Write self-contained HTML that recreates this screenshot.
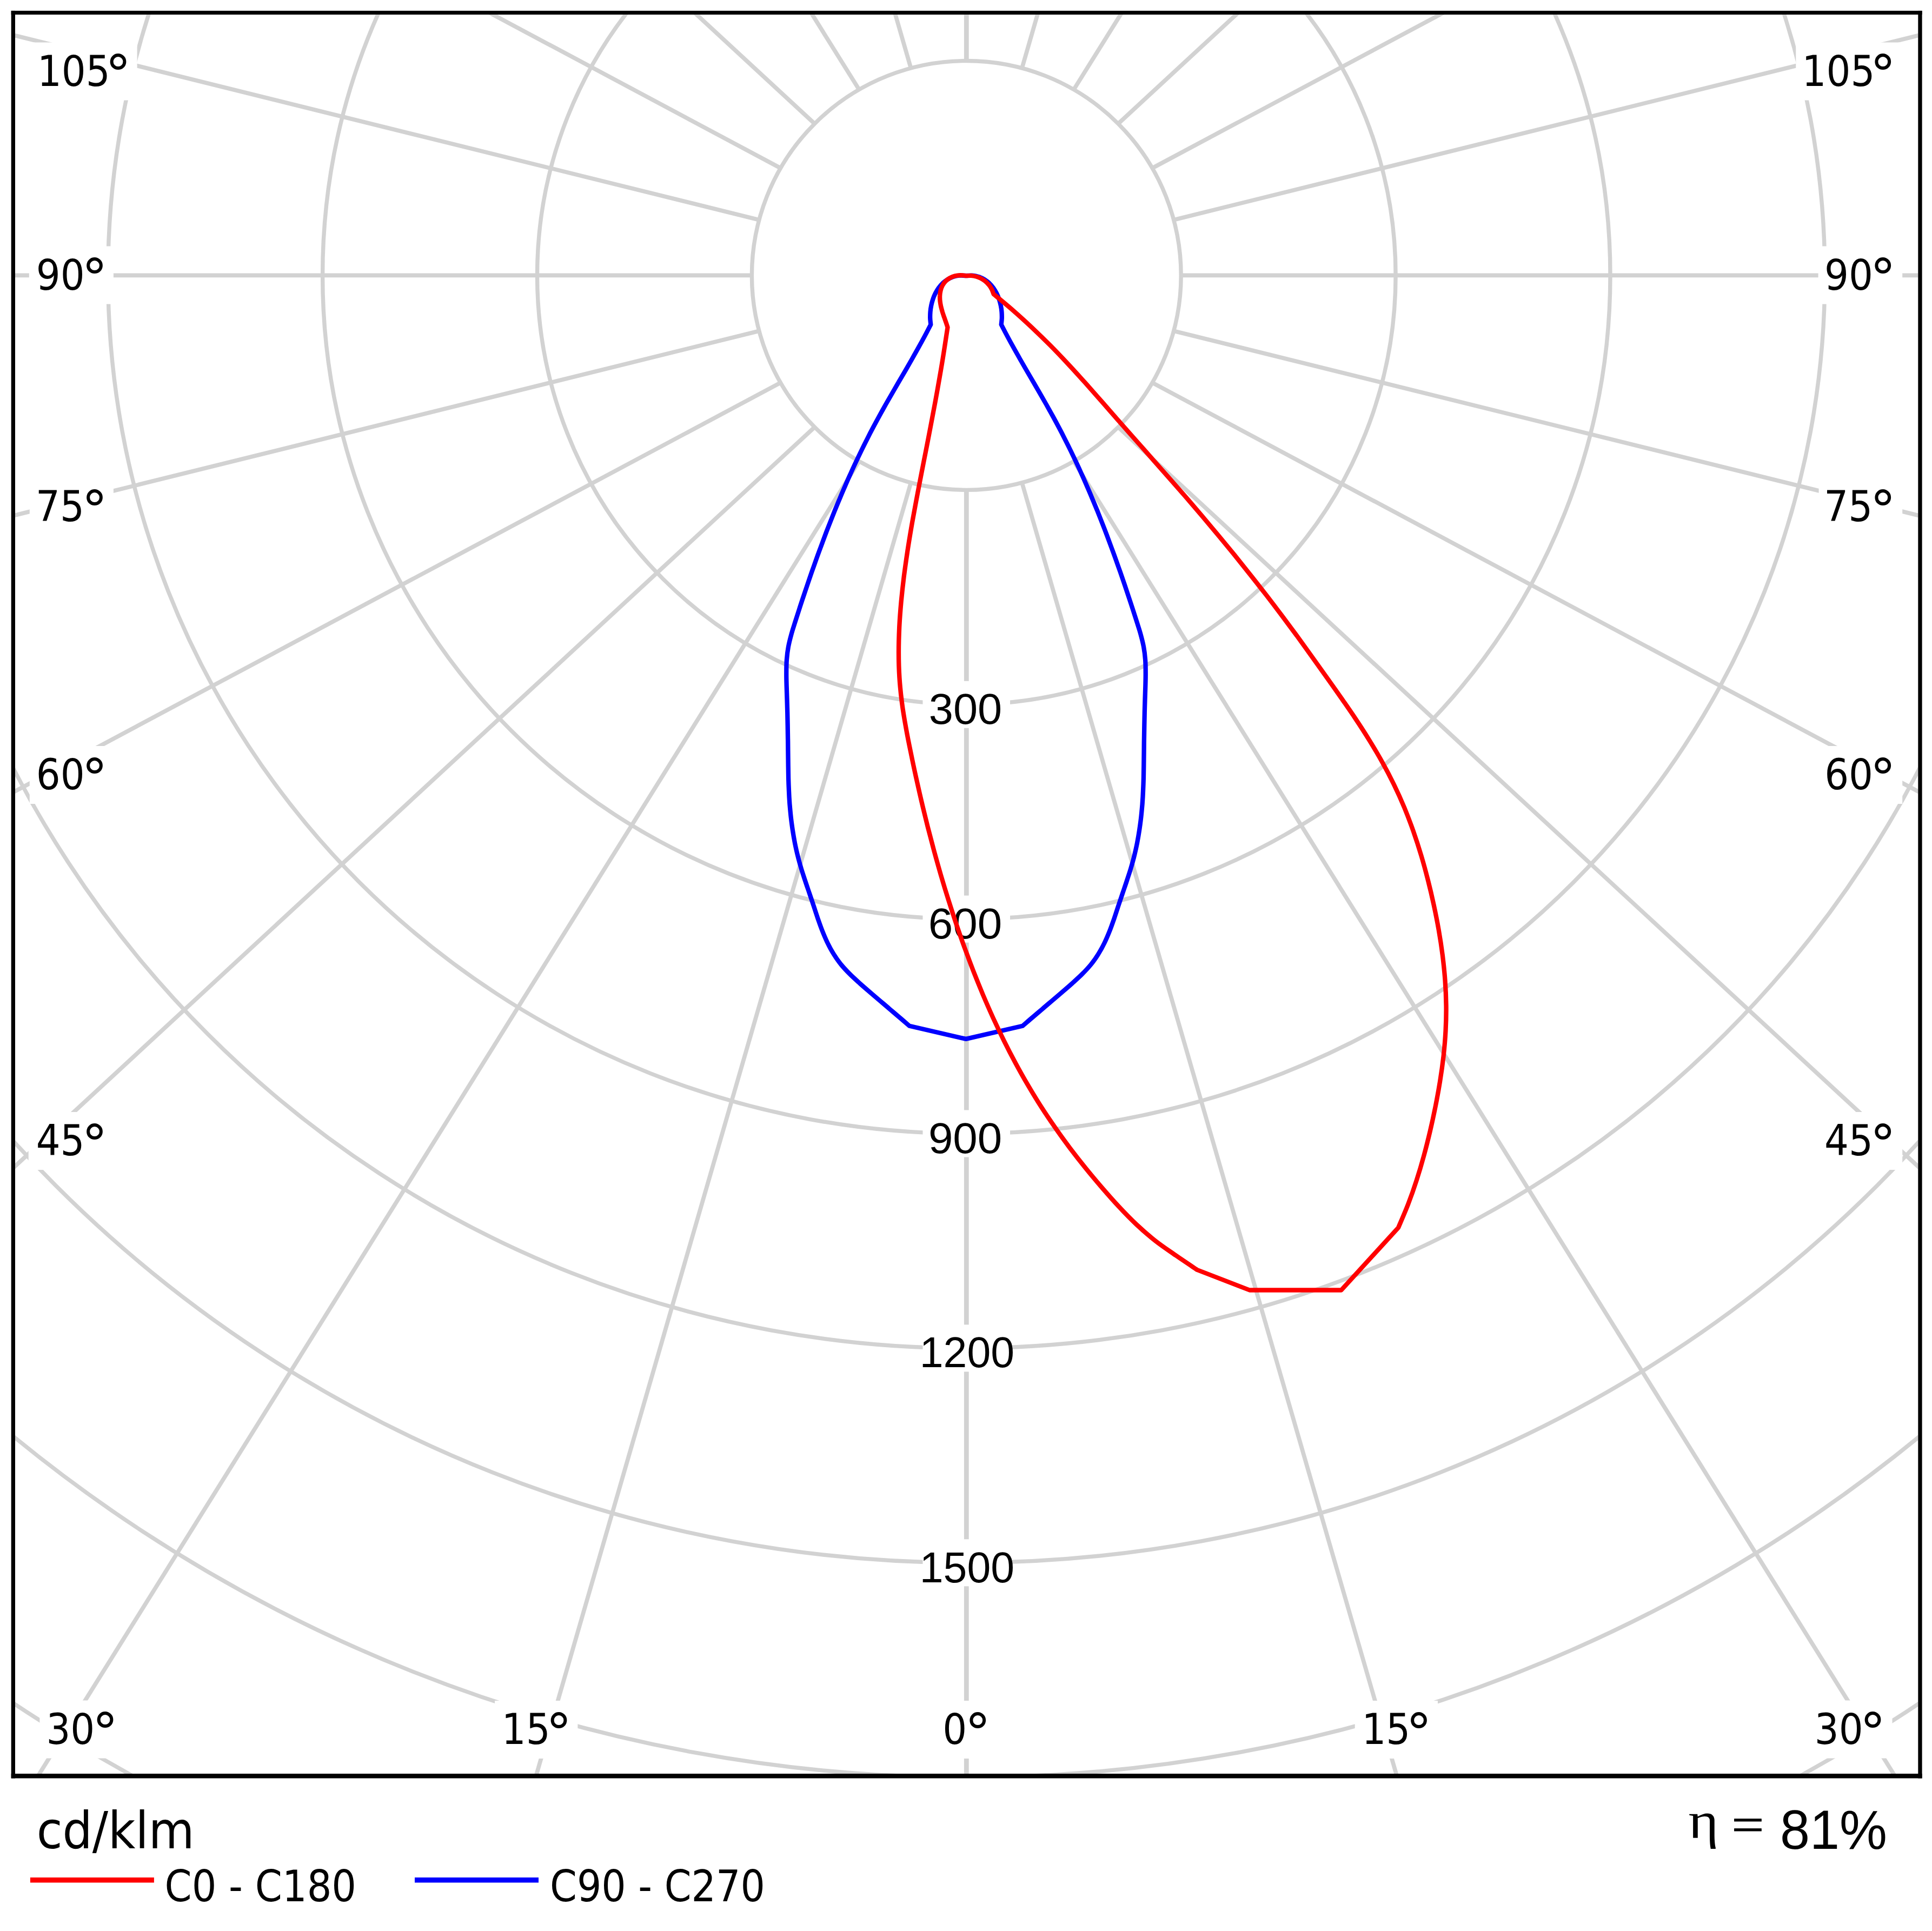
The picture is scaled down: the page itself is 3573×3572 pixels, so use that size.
<!DOCTYPE html>
<html lang="en"><head><meta charset="utf-8"><title>Polar luminous intensity diagram</title>
<style>html,body{margin:0;padding:0;background:#fff}body{width:3573px;height:3572px;overflow:hidden}svg{display:block}</style></head><body>
<svg width="3573" height="3572" viewBox="0 0 3573 3572">
<rect x="0" y="0" width="3573" height="3572" fill="#fff"/>
<defs><clipPath id="plot"><rect x="28.0" y="27.2" width="3519.3" height="3255.0"/></clipPath></defs>
<g clip-path="url(#plot)">
<g fill="none" stroke="#d2d2d2" stroke-width="7.7">
<circle cx="1787.3" cy="509.45" r="396.9" stroke-width="7.4"/>
<circle cx="1787.3" cy="509.45" r="793.8" stroke-width="7.4"/>
<circle cx="1787.3" cy="509.45" r="1190.7" stroke-width="7.4"/>
<circle cx="1787.3" cy="509.45" r="1587.6" stroke-width="7.4"/>
<circle cx="1787.3" cy="509.45" r="1984.5" stroke-width="7.4"/>
<circle cx="1787.3" cy="509.45" r="2381.4" stroke-width="7.4"/>
<circle cx="1787.3" cy="509.45" r="2778.3" stroke-width="7.4"/>
<circle cx="1787.3" cy="509.45" r="3175.2" stroke-width="7.4"/>
<circle cx="1787.3" cy="509.45" r="3572.1" stroke-width="7.4"/>
<line x1="1787.3" y1="906.3" x2="1787.3" y2="5106.4" stroke-width="8.8"/>
<line x1="1890.0" y1="892.8" x2="3059.0" y2="4926.9" stroke-width="7.7"/>
<line x1="1985.8" y1="853.2" x2="4210.2" y2="4415.7" stroke-width="7.7"/>
<line x1="2068.0" y1="790.1" x2="5151.7" y2="3641.5" stroke-width="7.7"/>
<line x1="2131.0" y1="707.9" x2="5836.1" y2="2685.8" stroke-width="7.7"/>
<line x1="2170.7" y1="612.2" x2="6247.4" y2="1622.2" stroke-width="7.7"/>
<line x1="2184.2" y1="509.4" x2="6384.2" y2="509.5" stroke-width="7.7"/>
<line x1="2170.7" y1="406.7" x2="6247.4" y2="-603.3" stroke-width="7.7"/>
<line x1="2131.0" y1="311.0" x2="5836.1" y2="-1666.9" stroke-width="7.7"/>
<line x1="2068.0" y1="228.8" x2="5151.7" y2="-2622.6" stroke-width="7.7"/>
<line x1="1985.8" y1="165.7" x2="4210.2" y2="-3396.8" stroke-width="7.7"/>
<line x1="1890.0" y1="126.1" x2="3059.0" y2="-3908.0" stroke-width="7.7"/>
<line x1="1787.3" y1="112.6" x2="1787.3" y2="-4087.4" stroke-width="8.8"/>
<line x1="1684.6" y1="126.1" x2="515.6" y2="-3908.0" stroke-width="7.7"/>
<line x1="1588.8" y1="165.7" x2="-635.6" y2="-3396.8" stroke-width="7.7"/>
<line x1="1506.6" y1="228.8" x2="-1577.1" y2="-2622.6" stroke-width="7.7"/>
<line x1="1443.6" y1="311.0" x2="-2261.5" y2="-1666.9" stroke-width="7.7"/>
<line x1="1403.9" y1="406.7" x2="-2672.8" y2="-603.3" stroke-width="7.7"/>
<line x1="1390.4" y1="509.4" x2="-2809.6" y2="509.4" stroke-width="7.7"/>
<line x1="1403.9" y1="612.2" x2="-2672.8" y2="1622.2" stroke-width="7.7"/>
<line x1="1443.6" y1="707.9" x2="-2261.5" y2="2685.8" stroke-width="7.7"/>
<line x1="1506.6" y1="790.1" x2="-1577.1" y2="3641.5" stroke-width="7.7"/>
<line x1="1588.8" y1="853.2" x2="-635.6" y2="4415.7" stroke-width="7.7"/>
<line x1="1684.6" y1="892.8" x2="515.6" y2="4926.9" stroke-width="7.7"/>
</g>
<rect x="56.2" y="78.5" width="197.4" height="107.0" fill="#fff"/>
<rect x="3321.3" y="78.5" width="196.9" height="107.0" fill="#fff"/>
<rect x="53.8" y="455.5" width="156.1" height="107.0" fill="#fff"/>
<rect x="3362.6" y="455.5" width="155.6" height="107.0" fill="#fff"/>
<rect x="54.8" y="884.0" width="155.1" height="107.0" fill="#fff"/>
<rect x="3363.6" y="884.0" width="154.6" height="107.0" fill="#fff"/>
<rect x="54.8" y="1380.0" width="155.1" height="107.0" fill="#fff"/>
<rect x="3363.6" y="1380.0" width="154.6" height="107.0" fill="#fff"/>
<rect x="52.7" y="2057.0" width="157.2" height="107.0" fill="#fff"/>
<rect x="3361.5" y="2057.0" width="156.7" height="107.0" fill="#fff"/>
<rect x="73.4" y="3145.5" width="156.1" height="107.0" fill="#fff"/>
<rect x="3345.3" y="3145.5" width="154.2" height="107.0" fill="#fff"/>
<rect x="915.1" y="3146.0" width="153.3" height="107.0" fill="#fff"/>
<rect x="1731.0" y="3146.0" width="112.2" height="107.0" fill="#fff"/>
<rect x="2505.7" y="3146.0" width="153.3" height="107.0" fill="#fff"/>
<rect x="1706.5" y="1259.8" width="161.5" height="87.0" fill="#fff"/>
<rect x="1706.5" y="1656.6" width="161.5" height="87.0" fill="#fff"/>
<rect x="1706.5" y="2053.5" width="161.5" height="87.0" fill="#fff"/>
<rect x="1706.5" y="2450.4" width="165.5" height="87.0" fill="#fff"/>
<rect x="1706.5" y="2847.3" width="165.5" height="87.0" fill="#fff"/>
<text x="68.95" y="158.60" font-family="'DejaVu Sans Condensed','DejaVu Sans','Liberation Sans',sans-serif" font-stretch="condensed" font-size="78.5" fill="#000">105<tspan x="194.60" y="171.10" font-family="'DejaVu Sans','Liberation Sans',sans-serif" font-stretch="normal" font-size="96">°</tspan></text>
<text x="3332.55" y="158.60" font-family="'DejaVu Sans Condensed','DejaVu Sans','Liberation Sans',sans-serif" font-stretch="condensed" font-size="78.5" fill="#000">105<tspan x="3458.20" y="171.10" font-family="'DejaVu Sans','Liberation Sans',sans-serif" font-stretch="normal" font-size="96">°</tspan></text>
<text x="66.80" y="535.60" font-family="'DejaVu Sans Condensed','DejaVu Sans','Liberation Sans',sans-serif" font-stretch="condensed" font-size="78.5" fill="#000">90<tspan x="150.90" y="548.10" font-family="'DejaVu Sans','Liberation Sans',sans-serif" font-stretch="normal" font-size="96">°</tspan></text>
<text x="3374.10" y="535.60" font-family="'DejaVu Sans Condensed','DejaVu Sans','Liberation Sans',sans-serif" font-stretch="condensed" font-size="78.5" fill="#000">90<tspan x="3458.20" y="548.10" font-family="'DejaVu Sans','Liberation Sans',sans-serif" font-stretch="normal" font-size="96">°</tspan></text>
<text x="66.02" y="964.10" font-family="'DejaVu Sans Condensed','DejaVu Sans','Liberation Sans',sans-serif" font-stretch="condensed" font-size="78.5" fill="#000">75<tspan x="150.90" y="976.60" font-family="'DejaVu Sans','Liberation Sans',sans-serif" font-stretch="normal" font-size="96">°</tspan></text>
<text x="3373.32" y="964.10" font-family="'DejaVu Sans Condensed','DejaVu Sans','Liberation Sans',sans-serif" font-stretch="condensed" font-size="78.5" fill="#000">75<tspan x="3458.20" y="976.60" font-family="'DejaVu Sans','Liberation Sans',sans-serif" font-stretch="normal" font-size="96">°</tspan></text>
<text x="66.84" y="1460.10" font-family="'DejaVu Sans Condensed','DejaVu Sans','Liberation Sans',sans-serif" font-stretch="condensed" font-size="78.5" fill="#000">60<tspan x="150.90" y="1472.60" font-family="'DejaVu Sans','Liberation Sans',sans-serif" font-stretch="normal" font-size="96">°</tspan></text>
<text x="3374.14" y="1460.10" font-family="'DejaVu Sans Condensed','DejaVu Sans','Liberation Sans',sans-serif" font-stretch="condensed" font-size="78.5" fill="#000">60<tspan x="3458.20" y="1472.60" font-family="'DejaVu Sans','Liberation Sans',sans-serif" font-stretch="normal" font-size="96">°</tspan></text>
<text x="66.70" y="2137.10" font-family="'DejaVu Sans Condensed','DejaVu Sans','Liberation Sans',sans-serif" font-stretch="condensed" font-size="78.5" fill="#000">45<tspan x="150.90" y="2149.60" font-family="'DejaVu Sans','Liberation Sans',sans-serif" font-stretch="normal" font-size="96">°</tspan></text>
<text x="3374.00" y="2137.10" font-family="'DejaVu Sans Condensed','DejaVu Sans','Liberation Sans',sans-serif" font-stretch="condensed" font-size="78.5" fill="#000">45<tspan x="3458.20" y="2149.60" font-family="'DejaVu Sans','Liberation Sans',sans-serif" font-stretch="normal" font-size="96">°</tspan></text>
<text x="85.40" y="3225.60" font-family="'DejaVu Sans Condensed','DejaVu Sans','Liberation Sans',sans-serif" font-stretch="condensed" font-size="78.5" fill="#000">30<tspan x="170.50" y="3238.10" font-family="'DejaVu Sans','Liberation Sans',sans-serif" font-stretch="normal" font-size="96">°</tspan></text>
<text x="3355.80" y="3225.60" font-family="'DejaVu Sans Condensed','DejaVu Sans','Liberation Sans',sans-serif" font-stretch="condensed" font-size="78.5" fill="#000">30<tspan x="3439.50" y="3238.10" font-family="'DejaVu Sans','Liberation Sans',sans-serif" font-stretch="normal" font-size="96">°</tspan></text>
<text x="927.85" y="3226.10" font-family="'DejaVu Sans Condensed','DejaVu Sans','Liberation Sans',sans-serif" font-stretch="condensed" font-size="78.5" fill="#000">15<tspan x="1009.40" y="3238.60" font-family="'DejaVu Sans','Liberation Sans',sans-serif" font-stretch="normal" font-size="96">°</tspan></text>
<text x="1743.31" y="3226.10" font-family="'DejaVu Sans Condensed','DejaVu Sans','Liberation Sans',sans-serif" font-stretch="condensed" font-size="78.5" fill="#000">0<tspan x="1784.20" y="3238.60" font-family="'DejaVu Sans','Liberation Sans',sans-serif" font-stretch="normal" font-size="96">°</tspan></text>
<text x="2518.45" y="3226.10" font-family="'DejaVu Sans Condensed','DejaVu Sans','Liberation Sans',sans-serif" font-stretch="condensed" font-size="78.5" fill="#000">15<tspan x="2600.00" y="3238.60" font-family="'DejaVu Sans','Liberation Sans',sans-serif" font-stretch="normal" font-size="96">°</tspan></text>
<text transform="translate(1717.77,1339.45) scale(1.0086,1)" font-family="'Liberation Sans',sans-serif" font-size="80.5" fill="#000">300</text>
<text transform="translate(1716.73,1736.35) scale(1.0166,1)" font-family="'Liberation Sans',sans-serif" font-size="80.5" fill="#000">600</text>
<text transform="translate(1716.93,2133.25) scale(1.0150,1)" font-family="'Liberation Sans',sans-serif" font-size="80.5" fill="#000">900</text>
<text transform="translate(1700.83,2529.15) scale(0.9782,1)" font-family="'Liberation Sans',sans-serif" font-size="80.5" fill="#000">1200</text>
<text transform="translate(1700.83,2927.05) scale(0.9782,1)" font-family="'Liberation Sans',sans-serif" font-size="80.5" fill="#000">1500</text>
<path d="M1786.5,1921.9L1681.9,1897.8C1678.8,1895.2 1669.7,1887.2 1663.5,1882.0C1657.4,1876.7 1651.2,1871.5 1645.1,1866.3C1639.0,1861.0 1632.8,1855.8 1626.7,1850.6C1620.5,1845.3 1614.4,1840.1 1608.3,1834.8C1602.1,1829.5 1595.9,1824.2 1589.9,1818.8C1583.9,1813.4 1577.8,1808.0 1572.1,1802.3C1566.4,1796.6 1560.8,1790.7 1555.7,1784.5C1550.7,1778.3 1546.0,1771.7 1541.8,1764.9C1537.5,1758.1 1533.7,1750.9 1530.2,1743.7C1526.7,1736.5 1523.6,1729.0 1520.6,1721.5C1517.6,1714.0 1515.0,1706.3 1512.3,1698.6C1509.7,1691.0 1507.2,1683.2 1504.7,1675.5C1502.1,1667.8 1499.5,1660.1 1496.9,1652.4C1494.3,1644.7 1491.6,1637.1 1489.1,1629.4C1486.6,1621.7 1484.0,1614.1 1481.7,1606.4C1479.4,1598.6 1477.2,1590.9 1475.3,1583.1C1473.3,1575.3 1471.6,1567.4 1470.0,1559.5C1468.5,1551.6 1467.1,1543.6 1465.9,1535.6C1464.7,1527.7 1463.6,1519.6 1462.7,1511.6C1461.8,1503.6 1461.1,1495.5 1460.4,1487.5C1459.8,1479.4 1459.3,1471.3 1459.0,1463.2C1458.6,1455.1 1458.3,1447.0 1458.1,1439.0C1457.9,1430.9 1457.8,1422.8 1457.7,1414.7C1457.6,1406.6 1457.5,1398.6 1457.4,1390.5C1457.3,1382.4 1457.3,1374.4 1457.1,1366.3C1457.0,1358.3 1456.9,1350.2 1456.7,1342.1C1456.6,1334.1 1456.4,1326.0 1456.2,1317.9C1456.0,1309.8 1455.7,1301.8 1455.5,1293.6C1455.2,1285.5 1454.9,1277.4 1454.7,1269.3C1454.5,1261.2 1454.2,1253.0 1454.3,1244.9C1454.3,1236.8 1454.3,1228.7 1454.9,1220.7C1455.5,1212.7 1456.4,1204.7 1457.9,1196.8C1459.3,1188.9 1461.4,1181.1 1463.5,1173.4C1465.6,1165.6 1468.2,1158.0 1470.6,1150.3C1473.0,1142.6 1475.5,1134.9 1478.0,1127.2C1480.5,1119.5 1483.0,1111.8 1485.6,1104.2C1488.2,1096.5 1490.7,1088.8 1493.3,1081.2C1495.9,1073.5 1498.6,1065.9 1501.2,1058.2C1503.9,1050.6 1506.6,1043.0 1509.3,1035.4C1512.0,1027.7 1514.8,1020.1 1517.6,1012.6C1520.4,1005.0 1523.2,997.4 1526.1,989.8C1528.9,982.3 1531.8,974.7 1534.8,967.2C1537.7,959.7 1540.7,952.2 1543.7,944.7C1546.8,937.2 1549.8,929.7 1553.0,922.3C1556.1,914.8 1559.2,907.4 1562.5,900.0C1565.7,892.6 1568.9,885.2 1572.3,877.8C1575.6,870.5 1578.9,863.1 1582.4,855.8C1585.8,848.5 1589.3,841.2 1592.8,834.0C1596.3,826.7 1599.9,819.5 1603.6,812.3C1607.2,805.1 1610.9,797.9 1614.7,790.8C1618.5,783.6 1622.3,776.5 1626.2,769.4C1630.1,762.4 1634.1,755.3 1638.0,748.3C1642.0,741.2 1646.1,734.2 1650.1,727.2C1654.1,720.2 1658.2,713.2 1662.3,706.2C1666.3,699.3 1670.4,692.3 1674.5,685.3C1678.5,678.3 1682.6,671.3 1686.6,664.2C1690.6,657.2 1694.6,650.2 1698.5,643.1C1702.4,636.1 1706.3,629.0 1710.1,621.9C1713.9,614.7 1719.4,604.0 1721.3,600.4C1721.1,598.5 1720.4,592.8 1720.2,589.0C1720.1,585.1 1720.2,581.1 1720.5,577.1C1720.8,573.1 1721.4,569.1 1722.2,565.2C1723.0,561.3 1724.0,557.3 1725.3,553.6C1726.5,549.8 1728.0,546.1 1729.8,542.6C1731.6,539.1 1733.6,535.7 1735.8,532.6C1738.1,529.5 1740.6,526.5 1743.3,523.9C1746.1,521.4 1749.1,519.0 1752.3,517.0C1755.5,515.0 1758.9,513.4 1762.5,512.1C1766.1,510.9 1770.0,510.0 1774.0,509.7C1778.0,509.3 1782.3,510.0 1786.5,510.0C1790.7,510.0 1795.0,509.3 1799.0,509.7C1803.0,510.0 1806.9,510.9 1810.5,512.1C1814.1,513.4 1817.5,515.0 1820.7,517.0C1823.9,519.0 1826.9,521.4 1829.7,523.9C1832.4,526.5 1834.9,529.5 1837.2,532.6C1839.4,535.7 1841.4,539.1 1843.2,542.6C1845.0,546.1 1846.5,549.8 1847.7,553.6C1849.0,557.3 1850.0,561.3 1850.8,565.2C1851.6,569.1 1852.2,573.1 1852.5,577.1C1852.8,581.1 1852.9,585.1 1852.8,589.0C1852.6,592.8 1851.9,598.5 1851.7,600.4C1853.6,604.0 1859.1,614.7 1862.9,621.9C1866.7,629.0 1870.6,636.1 1874.5,643.1C1878.4,650.2 1882.4,657.2 1886.4,664.2C1890.4,671.3 1894.5,678.3 1898.5,685.3C1902.6,692.3 1906.7,699.3 1910.7,706.2C1914.8,713.2 1918.9,720.2 1922.9,727.2C1926.9,734.2 1931.0,741.2 1935.0,748.3C1938.9,755.3 1942.9,762.4 1946.8,769.4C1950.7,776.5 1954.5,783.6 1958.3,790.8C1962.1,797.9 1965.8,805.1 1969.4,812.3C1973.1,819.5 1976.7,826.7 1980.2,834.0C1983.7,841.2 1987.2,848.5 1990.6,855.8C1994.1,863.1 1997.4,870.5 2000.7,877.8C2004.1,885.2 2007.3,892.6 2010.5,900.0C2013.8,907.4 2016.9,914.8 2020.0,922.3C2023.2,929.7 2026.2,937.2 2029.3,944.7C2032.3,952.2 2035.3,959.7 2038.2,967.2C2041.2,974.7 2044.1,982.3 2046.9,989.8C2049.8,997.4 2052.6,1005.0 2055.4,1012.6C2058.2,1020.1 2061.0,1027.7 2063.7,1035.4C2066.4,1043.0 2069.1,1050.6 2071.8,1058.2C2074.4,1065.9 2077.1,1073.5 2079.7,1081.2C2082.3,1088.8 2084.8,1096.5 2087.4,1104.2C2090.0,1111.8 2092.5,1119.5 2095.0,1127.2C2097.5,1134.9 2100.0,1142.6 2102.4,1150.3C2104.8,1158.0 2107.4,1165.6 2109.5,1173.4C2111.6,1181.1 2113.7,1188.9 2115.1,1196.8C2116.6,1204.7 2117.5,1212.7 2118.1,1220.7C2118.7,1228.7 2118.7,1236.8 2118.7,1244.9C2118.8,1253.0 2118.5,1261.2 2118.3,1269.3C2118.1,1277.4 2117.8,1285.5 2117.5,1293.6C2117.3,1301.8 2117.0,1309.8 2116.8,1317.9C2116.6,1326.0 2116.4,1334.1 2116.3,1342.1C2116.1,1350.2 2116.0,1358.3 2115.9,1366.3C2115.7,1374.4 2115.7,1382.4 2115.6,1390.5C2115.5,1398.6 2115.4,1406.6 2115.3,1414.7C2115.2,1422.8 2115.1,1430.9 2114.9,1439.0C2114.7,1447.0 2114.4,1455.1 2114.0,1463.2C2113.7,1471.3 2113.2,1479.4 2112.6,1487.5C2111.9,1495.5 2111.2,1503.6 2110.3,1511.6C2109.4,1519.6 2108.3,1527.7 2107.1,1535.6C2105.9,1543.6 2104.5,1551.6 2103.0,1559.5C2101.4,1567.4 2099.7,1575.3 2097.7,1583.1C2095.8,1590.9 2093.6,1598.6 2091.3,1606.4C2089.0,1614.1 2086.4,1621.7 2083.9,1629.4C2081.4,1637.1 2078.7,1644.7 2076.1,1652.4C2073.5,1660.1 2070.9,1667.8 2068.3,1675.5C2065.8,1683.2 2063.3,1691.0 2060.7,1698.6C2058.0,1706.3 2055.4,1714.0 2052.4,1721.5C2049.4,1729.0 2046.3,1736.5 2042.8,1743.7C2039.3,1750.9 2035.5,1758.1 2031.2,1764.9C2027.0,1771.7 2022.3,1778.3 2017.3,1784.5C2012.2,1790.7 2006.6,1796.6 2000.9,1802.3C1995.2,1808.0 1989.1,1813.4 1983.1,1818.8C1977.1,1824.2 1970.9,1829.5 1964.7,1834.8C1958.6,1840.1 1952.5,1845.3 1946.3,1850.6C1940.2,1855.8 1934.0,1861.0 1927.9,1866.3C1921.8,1871.5 1915.6,1876.7 1909.5,1882.0C1903.3,1887.2 1894.2,1895.2 1891.1,1897.8L1786.5,1921.9" fill="none" stroke="#0000ff" stroke-width="8.3" stroke-linejoin="round" stroke-linecap="round"/>
<path d="M1786.3,510.2C1784.6,510.0 1779.3,509.1 1775.9,509.1C1772.4,509.2 1768.9,509.7 1765.7,510.6C1762.5,511.5 1759.3,512.8 1756.4,514.4C1753.6,516.1 1750.9,518.1 1748.7,520.3C1746.4,522.6 1744.5,525.3 1743.0,528.1C1741.5,530.9 1740.4,534.0 1739.6,537.1C1738.8,540.3 1738.3,543.6 1738.2,546.9C1738.0,550.2 1738.2,553.6 1738.5,557.0C1738.9,560.3 1739.5,563.7 1740.2,567.1C1741.0,570.4 1742.0,573.8 1742.9,577.1C1743.9,580.4 1745.1,583.7 1746.2,586.9C1747.3,590.1 1748.4,593.3 1749.5,596.4C1750.6,599.5 1752.0,604.0 1752.5,605.5C1751.3,613.2 1747.9,636.4 1745.4,651.8C1743.0,667.2 1740.4,682.6 1737.7,698.0C1735.1,713.3 1732.3,728.7 1729.5,744.0C1726.7,759.4 1723.7,774.7 1720.8,790.0C1717.9,805.3 1714.9,820.7 1711.9,836.0C1708.9,851.3 1705.8,866.6 1702.9,881.9C1699.9,897.2 1696.9,912.6 1694.1,927.9C1691.2,943.2 1688.4,958.6 1685.7,974.0C1683.1,989.3 1680.5,1004.7 1678.2,1020.1C1675.9,1035.6 1673.7,1051.0 1671.7,1066.5C1669.8,1082.0 1668.1,1097.5 1666.6,1113.0C1665.2,1128.5 1664.0,1144.2 1663.2,1159.7C1662.5,1175.3 1662.0,1191.0 1662.0,1206.6C1662.0,1222.2 1662.4,1237.8 1663.4,1253.3C1664.4,1268.9 1666.0,1284.4 1668.0,1299.8C1670.0,1315.3 1672.6,1330.6 1675.4,1346.0C1678.1,1361.4 1681.2,1376.7 1684.4,1392.0C1687.5,1407.3 1690.7,1422.6 1694.1,1437.8C1697.5,1453.1 1700.9,1468.3 1704.5,1483.5C1708.1,1498.7 1711.8,1513.9 1715.6,1529.0C1719.5,1544.1 1723.4,1559.2 1727.5,1574.3C1731.6,1589.3 1735.8,1604.3 1740.2,1619.3C1744.6,1634.3 1749.1,1649.2 1753.8,1664.1C1758.5,1678.9 1763.3,1693.8 1768.3,1708.6C1773.3,1723.3 1778.4,1738.1 1783.7,1752.7C1789.1,1767.4 1794.6,1782.0 1800.2,1796.6C1805.9,1811.1 1811.8,1825.6 1817.8,1840.0C1823.9,1854.4 1830.2,1868.7 1836.6,1882.9C1843.1,1897.0 1849.8,1911.1 1856.7,1925.1C1863.6,1939.1 1870.8,1953.0 1878.2,1966.7C1885.6,1980.4 1893.2,1994.0 1901.1,2007.4C1909.0,2020.9 1917.1,2034.2 1925.5,2047.3C1933.9,2060.5 1942.7,2073.4 1951.6,2086.2C1960.5,2099.1 1969.7,2111.7 1979.1,2124.2C1988.5,2136.6 1998.2,2149.0 2008.0,2161.1C2017.8,2173.2 2027.9,2185.2 2038.0,2197.0C2048.2,2208.8 2058.5,2220.6 2069.1,2231.9C2079.7,2243.3 2090.5,2254.5 2101.8,2265.1C2113.1,2275.7 2124.7,2285.9 2136.9,2295.5C2149.1,2305.1 2162.2,2313.7 2175.1,2322.7C2187.9,2331.6 2207.5,2344.6 2214.0,2349.0L2311.0,2386.5L2480.5,2386.5L2586.0,2271.0C2589.0,2263.8 2598.5,2242.3 2604.1,2227.8C2609.7,2213.2 2614.9,2198.4 2619.7,2183.5C2624.5,2168.7 2629.0,2153.6 2633.1,2138.5C2637.3,2123.4 2641.1,2108.1 2644.7,2092.8C2648.3,2077.5 2651.6,2062.1 2654.7,2046.7C2657.8,2031.3 2660.6,2015.8 2663.1,2000.3C2665.6,1984.8 2667.8,1969.2 2669.6,1953.7C2671.3,1938.1 2672.7,1922.5 2673.5,1906.9C2674.3,1891.3 2674.7,1875.7 2674.5,1860.1C2674.3,1844.5 2673.6,1828.9 2672.5,1813.3C2671.4,1797.8 2669.7,1782.2 2667.8,1766.7C2665.8,1751.1 2663.4,1735.6 2660.7,1720.1C2658.0,1704.7 2654.9,1689.2 2651.6,1673.9C2648.3,1658.5 2644.7,1643.1 2640.8,1627.9C2636.9,1612.6 2632.8,1597.4 2628.3,1582.4C2623.8,1567.3 2619.0,1552.4 2613.8,1537.6C2608.6,1522.8 2603.0,1508.1 2597.1,1493.7C2591.1,1479.3 2584.6,1465.0 2577.8,1451.0C2571.0,1437.0 2563.7,1423.1 2556.1,1409.5C2548.5,1395.8 2540.5,1382.4 2532.3,1369.1C2524.1,1355.7 2515.6,1342.6 2506.9,1329.6C2498.2,1316.5 2489.2,1303.7 2480.3,1290.8C2471.3,1277.9 2462.2,1265.2 2453.1,1252.4C2444.0,1239.6 2434.9,1226.8 2425.8,1214.1C2416.6,1201.3 2407.5,1188.6 2398.3,1175.9C2389.0,1163.3 2379.7,1150.7 2370.3,1138.2C2360.8,1125.7 2351.4,1113.2 2341.8,1100.8C2332.2,1088.4 2322.6,1076.1 2312.8,1063.8C2303.1,1051.5 2293.3,1039.3 2283.5,1027.1C2273.6,1015.0 2263.6,1002.9 2253.6,990.8C2243.6,978.8 2233.6,966.8 2223.4,954.8C2213.3,942.9 2203.0,931.0 2192.8,919.1C2182.5,907.3 2172.2,895.5 2161.8,883.7C2151.5,871.9 2141.1,860.2 2130.7,848.5C2120.3,836.7 2109.9,825.0 2099.5,813.2C2089.1,801.5 2078.7,789.7 2068.4,778.0C2058.0,766.2 2047.7,754.3 2037.4,742.6C2027.0,730.8 2016.7,719.0 2006.3,707.3C1995.8,695.7 1985.3,684.0 1974.6,672.6C1963.9,661.2 1953.1,649.8 1942.1,638.7C1931.1,627.6 1919.9,616.7 1908.5,605.9C1897.1,595.2 1885.5,584.6 1873.7,574.3C1861.9,564.0 1843.6,549.0 1837.6,544.0C1837.0,542.5 1835.6,537.8 1834.1,535.0C1832.6,532.1 1830.8,529.4 1828.9,527.0C1826.9,524.6 1824.6,522.3 1822.2,520.3C1819.7,518.4 1817.1,516.6 1814.3,515.1C1811.5,513.7 1808.5,512.5 1805.5,511.6C1802.5,510.7 1799.3,510.1 1796.1,509.9C1792.9,509.7 1787.9,510.1 1786.3,510.2" fill="none" stroke="#ff0000" stroke-width="8.3" stroke-linejoin="round" stroke-linecap="round"/>
</g>
<rect x="20.7" y="19.9" width="7.3" height="3269.6" fill="#000"/>
<rect x="3547.3" y="19.9" width="7.3" height="3269.6" fill="#000"/>
<rect x="20.7" y="19.9" width="3533.9" height="7.1" fill="#000"/>
<rect x="20.7" y="3281.0" width="3533.9" height="8.5" fill="#000"/>
<text transform="translate(67.66,3419.00) scale(1.0181,1)" font-family="'DejaVu Sans Condensed','DejaVu Sans','Liberation Sans',sans-serif" font-stretch="condensed" font-size="95" fill="#000">cd/klm</text>
<line x1="55.9" y1="3477.8" x2="284.9" y2="3477.8" stroke="#ff0000" stroke-width="9.5"/>
<text transform="translate(304.51,3517.00) scale(0.9977,1)" font-family="'DejaVu Sans Condensed','DejaVu Sans','Liberation Sans',sans-serif" font-stretch="condensed" font-size="80" fill="#000">C0 - C180</text>
<line x1="767" y1="3477.8" x2="996" y2="3477.8" stroke="#0000ff" stroke-width="9.5"/>
<text transform="translate(1017.03,3517.00) scale(0.9917,1)" font-family="'DejaVu Sans Condensed','DejaVu Sans','Liberation Sans',sans-serif" font-stretch="condensed" font-size="80" fill="#000">C90 - C270</text>
<text transform="translate(3122.62,3399.90) scale(1.1150,1)" font-family="'Liberation Serif','DejaVu Serif',serif" font-size="96" fill="#000">η</text>
<text transform="translate(3202.24,3404.50) scale(1.2147,1)" font-family="'Liberation Serif','DejaVu Serif',serif" font-size="88" fill="#000" stroke="#000" stroke-width="0.8">=</text>
<text transform="translate(3292.12,3420.30) scale(0.9695,1)" font-family="'Liberation Sans',sans-serif" font-size="102" fill="#000">81%</text>
</svg></body></html>
